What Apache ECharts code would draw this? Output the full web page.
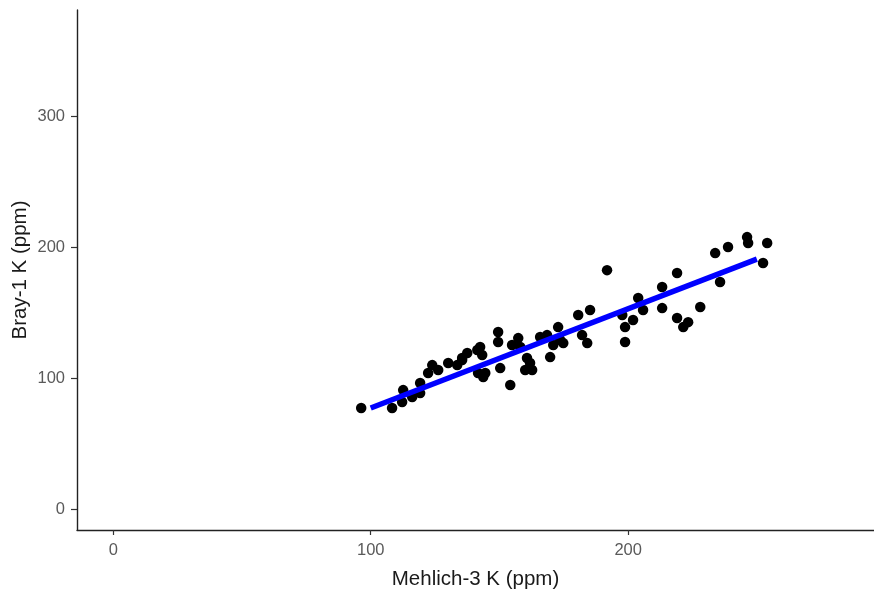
<!DOCTYPE html>
<html>
<head>
<meta charset="utf-8">
<script src="https://cdn.jsdelivr.net/npm/echarts@6/dist/echarts.min.js"></script>
<style>
  html, body { margin: 0; padding: 0; background: #fff; }
  #chart { width: 874px; height: 590px; }
</style>
</head>
<body>
<div id="chart"></div>
<script>
// Mehlich-3 K vs Bray-1 K (ppm)
const mehlichK = [96.3, 108.3, 112.2, 112.6, 116.1, 119.2, 119.2, 122.3, 123.9, 126.2,
  130.1, 133.6, 135.5, 137.5, 141.4, 141.7, 135.5, 142.5, 143.3, 143.7,
  144.5, 149.5, 149.5, 150.3, 154.2, 154.9, 157.3, 158.1, 160.0, 160.7,
  161.9, 162.7, 165.8, 168.5, 169.7, 170.9, 172.8, 173.6, 174.8, 180.6,
  184.1, 185.2, 182.1, 191.8, 197.7, 198.8, 201.9, 198.8, 203.9, 205.8,
  213.2, 213.2, 219.0, 219.0, 221.4, 223.3, 228.0, 233.8, 235.7, 238.8,
  246.2, 246.6, 254.0, 252.4];
const brayK = [77.1, 77.1, 81.7, 90.8, 85.5, 88.5, 96.2, 103.8, 109.9, 106.1,
  111.5, 109.9, 115.3, 119.1, 121.4, 103.8, 113.7, 123.7, 117.6, 100.8,
  103.8, 135.1, 127.5, 107.6, 94.7, 125.2, 130.5, 123.7, 106.1, 115.3,
  111.5, 106.1, 131.3, 132.8, 116.0, 125.2, 138.9, 129.0, 126.7, 148.1,
  126.7, 151.9, 132.8, 182.4, 148.1, 138.9, 144.3, 127.5, 161.1, 151.9,
  169.5, 153.4, 180.2, 145.8, 138.9, 142.7, 154.2, 195.4, 173.3, 200.0,
  207.6, 203.1, 203.1, 187.8];

// fitted line end points
const fitX = [100, 250];
const fitY = [77.1, 190.8];

const xTicks = [0, 100, 200];
const yTicks = [0, 100, 200, 300];

const points = mehlichK.map((v, i) => [v, brayK[i]]);
const fitLine = fitX.map((v, i) => [v, fitY[i]]);

const chart = echarts.init(document.getElementById('chart'));
const tickLabel = { color: '#5a5a5a', fontSize: 16.5, fontFamily: 'Liberation Sans' };
const axisName = { color: '#1a1a1a', fontSize: 20.5, fontFamily: 'Liberation Sans' };

chart.setOption({
  animation: false,
  grid: { left: 77, right: 0, top: 10, bottom: 60, containLabel: false, outerBoundsMode: 'none' },
  xAxis: {
    type: 'value',
    min: -14.1,
    max: 295.5,
    name: 'Mehlich-3 K (ppm)',
    nameLocation: 'middle',
    nameGap: 39,
    nameTextStyle: axisName,
    splitLine: { show: false },
    axisLine: { show: true, onZero: false, lineStyle: { color: '#222', width: 1.4 } },
    axisTick: { show: true, length: 5, customValues: xTicks, lineStyle: { color: '#333', width: 1.2 } },
    axisLabel: Object.assign({ margin: 12, customValues: xTicks }, tickLabel)
  },
  yAxis: {
    type: 'value',
    min: -16,
    max: 381,
    name: 'Bray-1 K (ppm)',
    nameLocation: 'middle',
    nameGap: 46,
    nameRotate: 90,
    nameMoveOverlap: false,
    nameTextStyle: axisName,
    splitLine: { show: false },
    axisLine: { show: true, onZero: false, lineStyle: { color: '#222', width: 1.4 } },
    axisTick: { show: true, length: 6, customValues: yTicks, lineStyle: { color: '#333', width: 1.2 } },
    axisLabel: Object.assign({ margin: 12, customValues: yTicks }, tickLabel)
  },
  series: [
    {
      type: 'scatter',
      data: points,
      symbolSize: 10.5,
      itemStyle: { color: '#000', opacity: 1 },
      z: 2
    },
    {
      type: 'line',
      data: fitLine,
      showSymbol: false,
      lineStyle: { color: '#0000ff', width: 5.5 },
      z: 3
    }
  ]
});
</script>
</body>
</html>
